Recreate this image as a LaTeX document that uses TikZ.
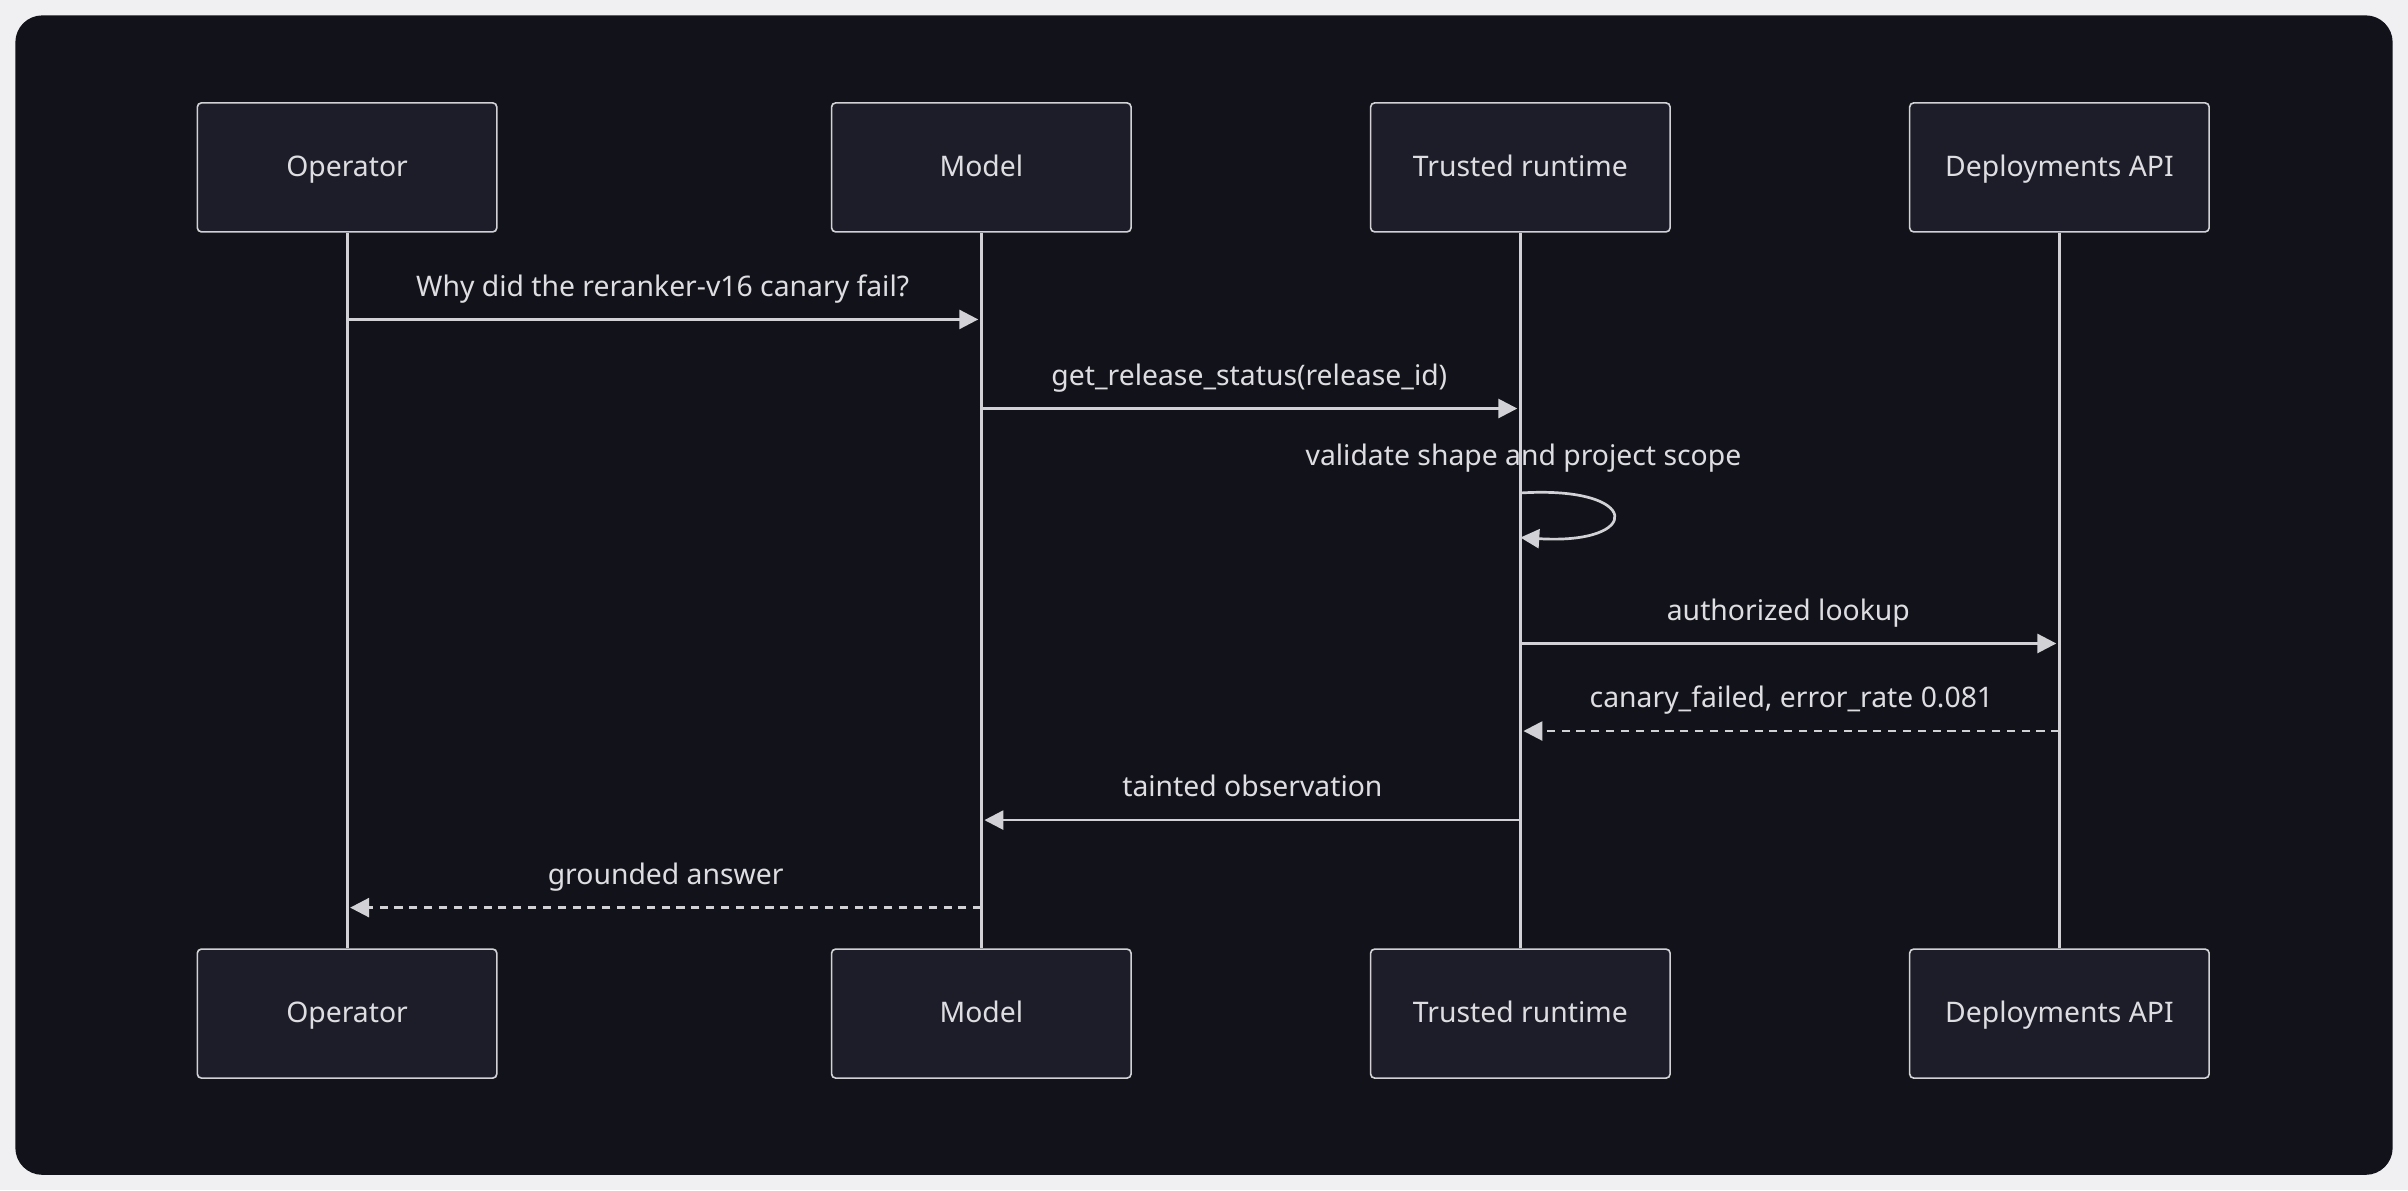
\documentclass[tikz,border=0pt]{standalone}
\usepackage{fontspec}
\setmainfont{Noto Sans}
\usetikzlibrary{arrows.meta,positioning}
\definecolor{frame_bg}{RGB}{240,240,242}
\definecolor{panel_bg}{RGB}{18,19,26}
\definecolor{box_bg}{RGB}{28,29,40}
\definecolor{line_gray}{RGB}{210,210,214}
\definecolor{text_gray}{RGB}{222,222,226}
\begin{document}
\begin{tikzpicture}[x=0.02cm,y=-0.02cm,>={Triangle[length=7pt,width=7pt]},
    font=\fontsize{10.5}{12}\selectfont]
    \tikzset{actor/.style={draw=line_gray,fill=box_bg,rounded corners=1.5pt,line width=0.6pt,
        minimum width=195*0.02cm,minimum height=84*0.02cm,text=text_gray,
        text height=1.6ex,text depth=0.4ex}}
    \tikzset{life/.style={line_gray,line width=1.1pt}}
    \tikzset{msg/.style={line_gray,line width=1.0pt,->}}
    \tikzset{reply/.style={msg,dash pattern=on 3pt off 2.5pt}}
    \tikzset{mlabel/.style={text=text_gray,anchor=south,inner sep=2pt,
        text height=1.6ex,text depth=0.4ex}}

    \fill[frame_bg] (0,0) rectangle (1568,775);
    \fill[panel_bg,rounded corners=10pt] (10,10) rectangle (1558,765);

    % participants
    \node[actor] (op)  at (226,109) {Operator};
    \node[actor] (mod) at (639,109) {Model};
    \node[actor] (tr)  at (990,109) {Trusted runtime};
    \node[actor] (dep) at (1341,109) {Deployments API};
    \node[actor] (opb)  at (226,660) {Operator};
    \node[actor] (modb) at (639,660) {Model};
    \node[actor] (trb)  at (990,660) {Trusted runtime};
    \node[actor] (depb) at (1341,660) {Deployments API};

    \draw[life] (op) -- (opb);
    \draw[life] (mod) -- (modb);
    \draw[life] (tr) -- (trb);
    \draw[life] (dep) -- (depb);

    % messages
    \coordinate (m1s) at (226,208);  \coordinate (m1e) at (637,208);
    \coordinate (m2s) at (639,266);  \coordinate (m2e) at (988,266);
    \coordinate (m3s) at (990,321);  \coordinate (m3e) at (990,350);
    \coordinate (m4s) at (990,419);  \coordinate (m4e) at (1339,419);
    \coordinate (m5s) at (1341,476); \coordinate (m5e) at (992,476);
    \coordinate (m6s) at (990,534);  \coordinate (m6e) at (641,534);
    \coordinate (m7s) at (639,591);  \coordinate (m7e) at (228,591);

    \draw[msg] (m1s) -- node[mlabel,yshift=4pt] {Why did the reranker-v16 canary fail?} (m1e);
    \draw[msg] (m2s) -- node[mlabel,yshift=4pt] {get\_release\_status(release\_id)} (m2e);
    \draw[msg] (m3s) .. controls (1070,316) and (1070,355) .. (m3e);
    \node[mlabel] at (992,311) {validate shape and project scope};
    \draw[msg] (m4s) -- node[mlabel,yshift=4pt] {authorized lookup} (m4e);
    \draw[reply] (m5s) -- node[mlabel,yshift=4pt] {canary\_failed, error\_rate 0.081} (m5e);
    \draw[msg] (m6s) -- node[mlabel,yshift=4pt] {tainted observation} (m6e);
    \draw[reply] (m7s) -- node[mlabel,yshift=4pt] {grounded answer} (m7e);
\end{tikzpicture}
\end{document}
